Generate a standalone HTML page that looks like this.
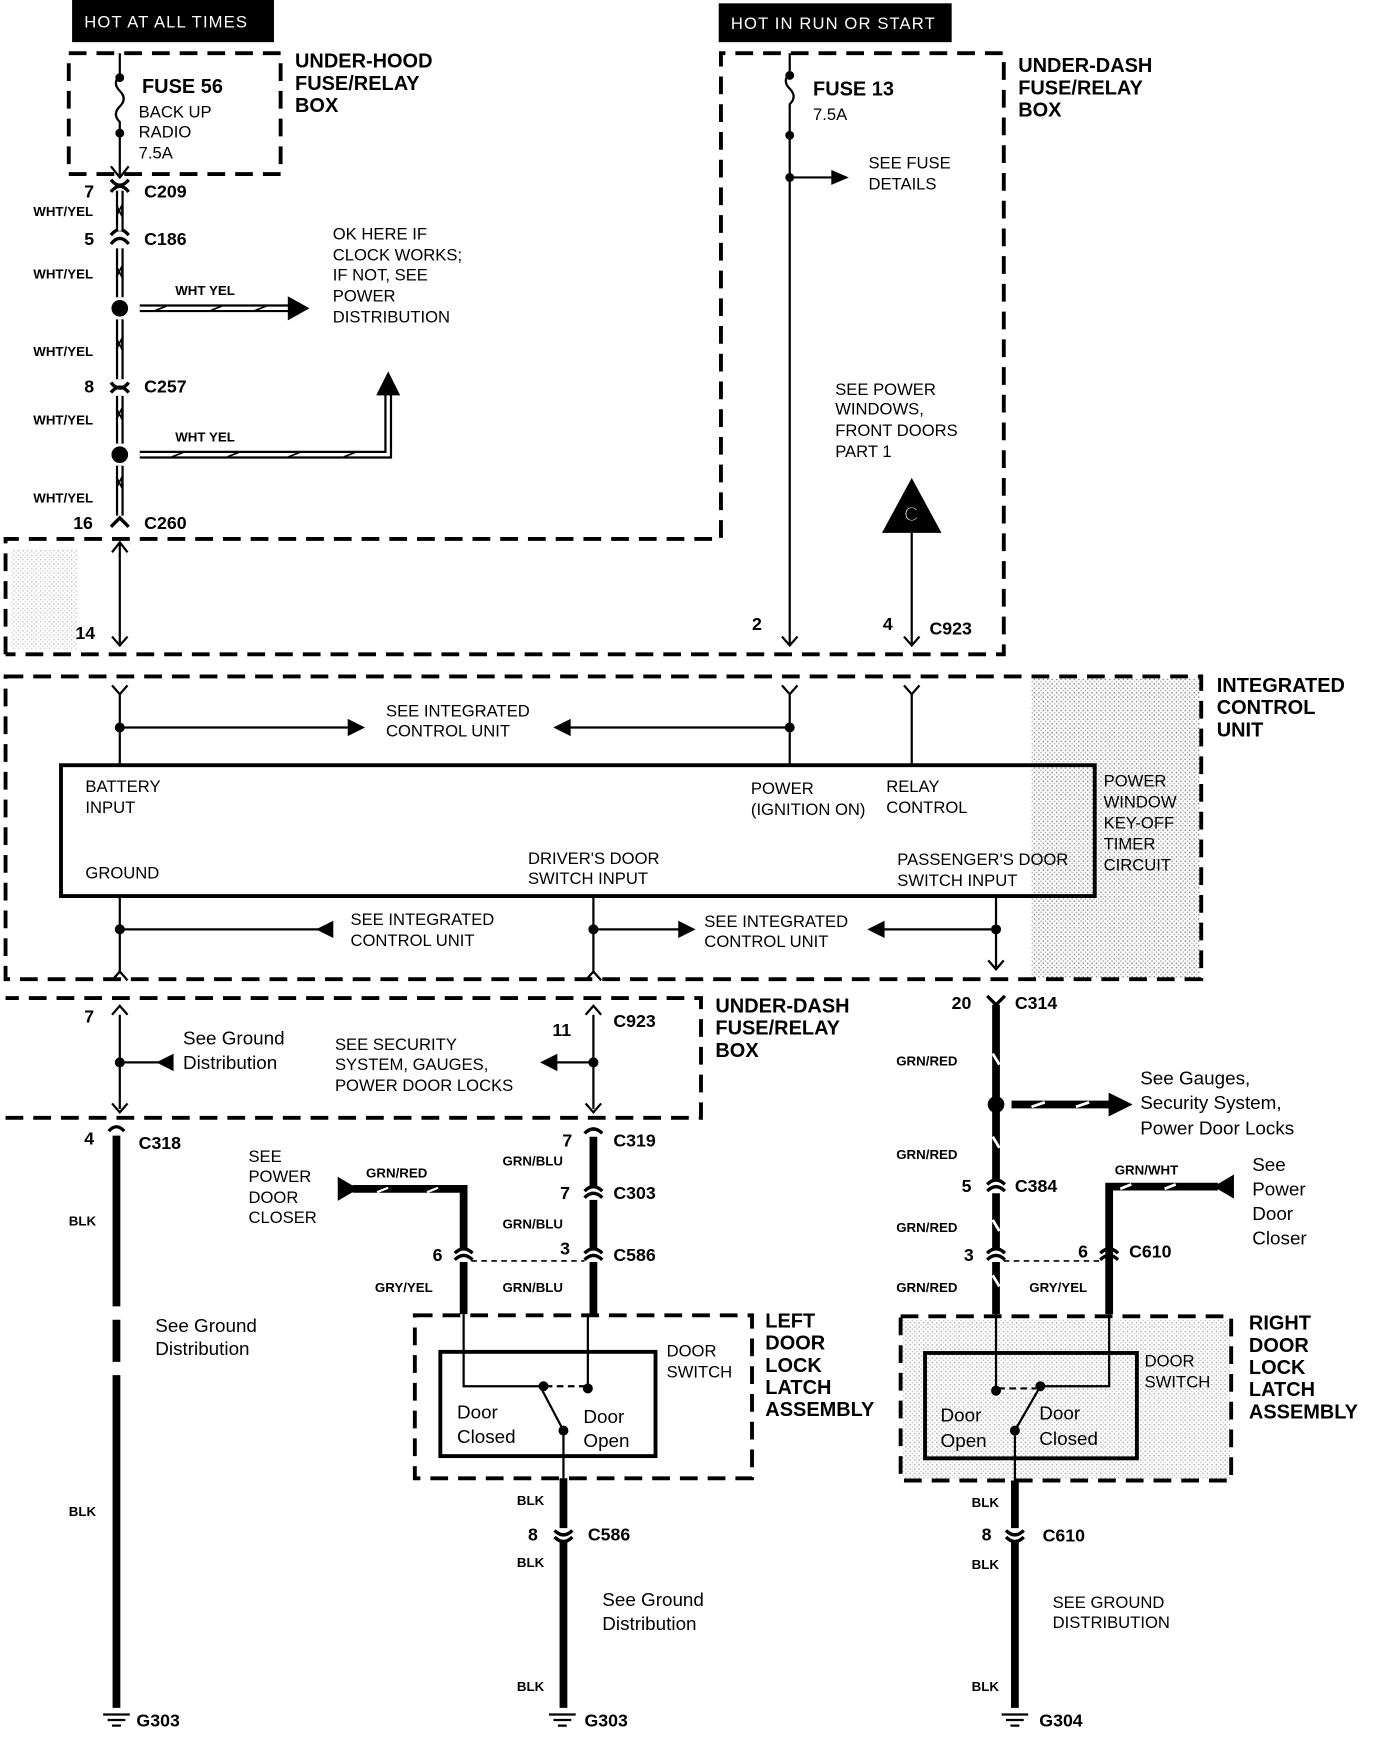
<!DOCTYPE html>
<html><head><meta charset="utf-8"><style>
html,body{margin:0;padding:0;background:#fff;}
svg{display:block;}
text{font-family:"Liberation Sans",sans-serif;fill:#000;}
.b{font-weight:bold;font-size:18px;}
.s{font-size:15px;}
.w{font-weight:bold;font-size:12px;}
.m{font-size:17px;}
.p{font-size:16px;font-weight:bold;}
</style></head><body>
<svg width="1392" height="1740" viewBox="0 0 1255 1569" preserveAspectRatio="none" xmlns="http://www.w3.org/2000/svg">
<defs>
<pattern id="dots" width="4" height="4" patternUnits="userSpaceOnUse"><rect x="0" y="0" width="1.3" height="1.3" fill="#888"/><rect x="2" y="2" width="1.3" height="1.3" fill="#aaa"/></pattern>
</defs>
<g fill="none" stroke="#000">
<rect x="930" y="612" width="152" height="270" fill="url(#dots)" stroke="none"/>
<rect x="814" y="1190" width="295" height="143" fill="url(#dots)" stroke="none" opacity="0.7"/>
<rect x="10" y="495" width="60" height="90" fill="url(#dots)" stroke="none" opacity="0.5"/>

<g stroke-width="3.5" stroke-dasharray="16,9">
<rect x="62" y="48" width="191" height="109"/>
<path d="M5,590 V486 H650 V48 H905 V590 H5"/>
<rect x="5" y="610" width="1078" height="273"/>
<path d="M5,1008 H632 V900 H5"/>
<rect x="374" y="1186" width="304" height="147"/>
<rect x="812" y="1187" width="298" height="148"/>
</g>

<rect x="55" y="690" width="932" height="118" stroke-width="3.5"/>
<rect x="397" y="1219" width="194" height="94" stroke-width="3.5"/>
<rect x="834" y="1220" width="191" height="95" stroke-width="3.5"/>

<g stroke-width="2">
<line x1="108" y1="48" x2="108" y2="68"/>
<path d="M108,68 q-7,7 0,14 q7,7 0,14 q-7,7 0,14 v12"/>
<line x1="108" y1="122" x2="108" y2="158"/>
<path d="M100,150 l8,10 l8,-10"/>
</g>
<circle cx="108" cy="70" r="3.5" fill="#000"/>
<circle cx="108" cy="120" r="3.5" fill="#000"/>
<g stroke-width="3">
<path d="M100,162 q8,10 16,0"/><path d="M100,173 q8,-10 16,0" />
<path d="M100,212 q8,-10 16,0"/><path d="M100,220 q8,-10 16,0"/>
<path d="M100,345 q8,10 16,0"/><path d="M100,354 q8,-10 16,0"/>
<path d="M100,475 l8,-8 l8,8"/>
</g>
<g stroke-width="7">
<line x1="108" y1="172" x2="108" y2="208"/><line x1="108" y1="224" x2="108" y2="268"/>
<line x1="108" y1="288" x2="108" y2="342"/><line x1="108" y1="357" x2="108" y2="400"/>
<line x1="108" y1="420" x2="108" y2="465"/>
<line x1="126" y1="278" x2="262" y2="278"/>
<path d="M126,410 H350 V352"/>
</g>
<g stroke="#fff" stroke-width="3">
<line x1="108" y1="172" x2="108" y2="208"/><line x1="108" y1="224" x2="108" y2="268"/>
<line x1="108" y1="288" x2="108" y2="342"/><line x1="108" y1="357" x2="108" y2="400"/>
<line x1="108" y1="420" x2="108" y2="465"/>
<line x1="126" y1="278" x2="262" y2="278"/>
<path d="M126,410 H350 V352"/>
</g>
<g stroke-width="1.5">
<path d="M105,185 l5,10 v-10 l-5,10"/><path d="M105,240 l5,10 v-10 l-5,10"/>
<path d="M105,305 l5,10 v-10 l-5,10"/><path d="M105,368 l5,10 v-10 l-5,10"/>
<path d="M105,430 l5,10 v-10 l-5,10"/>
<path d="M140,280 l10,-4 M190,280 l10,-4 M230,280 l10,-4"/>
<path d="M155,412 l10,-4 M205,412 l10,-4 M260,412 l10,-4 M310,412 l10,-4"/>
</g>
<circle cx="108" cy="278" r="7" fill="#000"/>
<circle cx="108" cy="410" r="7" fill="#000"/>
<path d="M260,268 L278,278 L260,288 Z" fill="#000"/>
<path d="M340,356 L350,336 L360,356 Z" fill="#000"/>

<g stroke-width="2">
<line x1="108" y1="490" x2="108" y2="580"/>
<path d="M101,498 l7,-9 l7,9 M101,574 l7,8 l7,-8"/>
<line x1="712" y1="48" x2="712" y2="66"/>
<path d="M712,66 q-7,7 0,14 q7,7 0,14 v28"/>
<line x1="712" y1="122" x2="712" y2="582"/>
<path d="M705,574 l7,8 l7,-8"/>
<line x1="712" y1="160" x2="752" y2="160"/>
<line x1="822" y1="480" x2="822" y2="582"/>
<path d="M815,574 l7,8 l7,-8"/>
<path d="M101,618 l7,8 l7,-8 M108,626 V690"/>
<path d="M705,618 l7,8 l7,-8 M712,626 V690"/>
<path d="M815,618 l7,8 l7,-8 M822,626 V690"/>
<line x1="108" y1="656" x2="318" y2="656"/>
<line x1="512" y1="656" x2="712" y2="656"/>
<path d="M108,808 V878 M101,884 l7,-8 l7,8"/>
<path d="M535,808 V878 M528,884 l7,-8 l7,8"/>
<path d="M898,808 V872 M891,866 l7,8 l7,-8"/>
<line x1="108" y1="838" x2="290" y2="838"/>
<line x1="535" y1="838" x2="614" y2="838"/>
<line x1="795" y1="838" x2="898" y2="838"/>
<path d="M108,915 V1000 M101,915 l7,-8 l7,8 M101,995 l7,8 l7,-8"/>
<path d="M535,915 V1000 M528,915 l7,-8 l7,8 M528,995 l7,8 l7,-8"/>
<line x1="108" y1="958" x2="150" y2="958"/>
<line x1="500" y1="958" x2="535" y2="958"/>
</g>
<circle cx="712" cy="160" r="3.5" fill="#000"/>
<circle cx="712" cy="122" r="3.5" fill="#000"/>
<circle cx="712" cy="68" r="3.5" fill="#000"/>
<path d="M750,154 L764,160 L750,166 Z" fill="#000"/>
<path d="M796,480 L822,432 L848,480 Z" fill="#000"/>
<text x="815" y="470" style="font-size:18px;fill:#fff">C</text>
<circle cx="108" cy="656" r="4" fill="#000"/><circle cx="712" cy="656" r="4" fill="#000"/>
<path d="M314,649 L328,656 L314,663 Z" fill="#000"/>
<path d="M514,649 L500,656 L514,663 Z" fill="#000"/>
<circle cx="108" cy="838" r="4" fill="#000"/><circle cx="535" cy="838" r="4" fill="#000"/><circle cx="898" cy="838" r="4" fill="#000"/>
<path d="M300,831 L286,838 L300,845 Z" fill="#000"/>
<path d="M612,831 L626,838 L612,845 Z" fill="#000"/>
<path d="M797,831 L783,838 L797,845 Z" fill="#000"/>
<circle cx="108" cy="958" r="4" fill="#000"/><circle cx="535" cy="958" r="4" fill="#000"/>
<path d="M156,951 L142,958 L156,965 Z" fill="#000"/>
<path d="M502,951 L488,958 L502,965 Z" fill="#000"/>

<path d="M98,1020 q7,-8 14,0" stroke-width="3"/>
<g stroke-width="7">
<line x1="105" y1="1024" x2="105" y2="1178"/>
<line x1="105" y1="1190" x2="105" y2="1228"/>
<line x1="105" y1="1240" x2="105" y2="1540"/>
</g>
<g stroke-width="3">
<path d="M527,1022 q8,-8 16,0"/><path d="M527,1074 q8,-8 16,0"/><path d="M527,1080 q8,-8 16,0"/>
<path d="M527,1130 q8,-8 16,0"/><path d="M527,1136 q8,-8 16,0"/>
<path d="M410,1130 q8,-8 16,0"/><path d="M410,1136 q8,-8 16,0"/>
<path d="M500,1380 q8,8 16,0"/><path d="M500,1386 q8,8 16,0"/>
</g>
<g stroke-width="7">
<line x1="535" y1="1025" x2="535" y2="1070"/><line x1="535" y1="1082" x2="535" y2="1126"/><line x1="535" y1="1138" x2="535" y2="1185"/>
<path d="M318,1072 H418 V1126"/><line x1="418" y1="1138" x2="418" y2="1185"/>
<line x1="508" y1="1333" x2="508" y2="1378"/><line x1="508" y1="1390" x2="508" y2="1540"/>
</g>
<path d="M305,1062 L322,1072 L305,1082 Z" fill="#000"/>
<path d="M340,1075 l10,-4 M385,1075 l10,-4" stroke="#fff" stroke-width="2"/>
<line x1="425" y1="1137" x2="527" y2="1137" stroke-width="1.5" stroke-dasharray="5,4"/>
<g stroke-width="2">
<path d="M418,1185 V1250 H488"/><line x1="530" y1="1185" x2="530" y2="1250"/>
<line x1="492" y1="1250" x2="528" y2="1250" stroke-dasharray="6,4"/>
<path d="M488,1252 L508,1290 V1333"/>
</g>
<circle cx="490" cy="1250" r="4" fill="#000"/><circle cx="530" cy="1252" r="4" fill="#000"/><circle cx="508" cy="1290" r="4" fill="#000"/>
<g stroke-width="3">
<path d="M890,898 l8,8 l8,-8"/>
<path d="M890,1068 q8,-8 16,0"/><path d="M890,1074 q8,-8 16,0"/>
<path d="M890,1130 q8,-8 16,0"/><path d="M890,1136 q8,-8 16,0"/>
<path d="M992,1130 q8,-8 16,0"/><path d="M992,1136 q8,-8 16,0"/>
<path d="M907,1380 q8,8 16,0"/><path d="M907,1386 q8,8 16,0"/>
</g>
<g stroke-width="7">
<line x1="898" y1="906" x2="898" y2="1064"/><line x1="898" y1="1076" x2="898" y2="1126"/><line x1="898" y1="1138" x2="898" y2="1185"/>
<line x1="912" y1="996" x2="1002" y2="996"/>
<path d="M1000,1185 V1070 H1098"/>
<line x1="915" y1="1335" x2="915" y2="1378"/><line x1="915" y1="1390" x2="915" y2="1540"/>
</g>
<g stroke="#fff" stroke-width="2.5">
<path d="M895,950 l6,10 M895,1025 l6,10 M895,1100 l6,10 M895,1150 l6,10"/>
<path d="M930,998 l12,-4 M970,998 l12,-4 M1010,1072 l10,-4 M1050,1072 l10,-4"/>
</g>
<circle cx="898" cy="996" r="7" fill="#000"/>
<path d="M1000,986 L1020,996 L1000,1006 Z" fill="#000"/>
<path d="M1112,1060 L1095,1070 L1112,1080 Z" fill="#000"/>
<line x1="905" y1="1137" x2="992" y2="1137" stroke-width="1.5" stroke-dasharray="5,4"/>
<g stroke-width="2">
<line x1="898" y1="1185" x2="898" y2="1254"/>
<path d="M1000,1185 V1250 H938"/>
<line x1="900" y1="1252" x2="934" y2="1252" stroke-dasharray="6,4"/>
<path d="M938,1250 L915,1290 V1335"/>
</g>
<circle cx="898" cy="1254" r="4" fill="#000"/><circle cx="938" cy="1250" r="4" fill="#000"/><circle cx="915" cy="1290" r="4" fill="#000"/>
<g stroke-width="2">
<path d="M93,1546 h24 M97,1551 h16 M101,1556 h8"/>
<path d="M495,1546 h24 M499,1551 h16 M503,1556 h8"/>
<path d="M903,1546 h24 M907,1551 h16 M911,1556 h8"/>
</g>
</g>

<rect x="65" y="0" width="182" height="38" fill="#000"/>
<text x="76" y="25" style="font-size:15px;fill:#fff;letter-spacing:1px">HOT AT ALL TIMES</text>
<rect x="648" y="3" width="210" height="35" fill="#000"/>
<text x="659" y="26" style="font-size:15px;fill:#fff;letter-spacing:1px">HOT IN RUN OR START</text>

<text class="b" x="266" y="61">UNDER-HOOD</text><text class="b" x="266" y="81">FUSE/RELAY</text><text class="b" x="266" y="101">BOX</text>
<text class="b" x="128" y="84">FUSE 56</text>
<text class="s" x="125" y="106">BACK UP</text><text class="s" x="125" y="124">RADIO</text><text class="s" x="125" y="143">7.5A</text>
<text class="p" x="76" y="178">7</text><text class="p" x="130" y="178">C209</text>
<text class="p" x="76" y="221">5</text><text class="p" x="130" y="221">C186</text>
<text class="p" x="76" y="354">8</text><text class="p" x="130" y="354">C257</text>
<text class="p" x="66" y="477">16</text><text class="p" x="130" y="477">C260</text>
<text class="w" x="30" y="195">WHT/YEL</text><text class="w" x="30" y="251">WHT/YEL</text><text class="w" x="30" y="321">WHT/YEL</text><text class="w" x="30" y="383">WHT/YEL</text><text class="w" x="30" y="453">WHT/YEL</text>
<text class="w" x="158" y="266">WHT YEL</text><text class="w" x="158" y="398">WHT YEL</text>
<text class="s" x="300" y="216">OK HERE IF</text><text class="s" x="300" y="235">CLOCK WORKS;</text><text class="s" x="300" y="253">IF NOT, SEE</text><text class="s" x="300" y="272">POWER</text><text class="s" x="300" y="291">DISTRIBUTION</text>
<text class="b" x="918" y="65">UNDER-DASH</text><text class="b" x="918" y="85">FUSE/RELAY</text><text class="b" x="918" y="105">BOX</text>
<text class="b" x="733" y="86">FUSE 13</text><text class="s" x="733" y="108">7.5A</text>
<text class="s" x="783" y="152">SEE FUSE</text><text class="s" x="783" y="171">DETAILS</text>
<text class="s" x="753" y="356">SEE POWER</text><text class="s" x="753" y="374">WINDOWS,</text><text class="s" x="753" y="393">FRONT DOORS</text><text class="s" x="753" y="412">PART 1</text>
<text class="p" x="68" y="576">14</text><text class="p" x="678" y="568">2</text><text class="p" x="796" y="568">4</text><text class="p" x="838" y="572">C923</text>
<text class="b" x="1097" y="624">INTEGRATED</text><text class="b" x="1097" y="644">CONTROL</text><text class="b" x="1097" y="664">UNIT</text>
<text class="s" x="348" y="646">SEE INTEGRATED</text><text class="s" x="348" y="664">CONTROL UNIT</text>
<text class="s" x="77" y="714">BATTERY</text><text class="s" x="77" y="733">INPUT</text>
<text class="s" x="677" y="716">POWER</text><text class="s" x="677" y="735">(IGNITION ON)</text>
<text class="s" x="799" y="714">RELAY</text><text class="s" x="799" y="733">CONTROL</text>
<text class="s" x="77" y="792">GROUND</text>
<text class="s" x="476" y="779">DRIVER'S DOOR</text><text class="s" x="476" y="797">SWITCH INPUT</text>
<text class="s" x="809" y="780">PASSENGER'S DOOR</text><text class="s" x="809" y="799">SWITCH INPUT</text>
<text class="s" x="995" y="709">POWER</text><text class="s" x="995" y="728">WINDOW</text><text class="s" x="995" y="747">KEY-OFF</text><text class="s" x="995" y="766">TIMER</text><text class="s" x="995" y="785">CIRCUIT</text>
<text class="s" x="316" y="834">SEE INTEGRATED</text><text class="s" x="316" y="853">CONTROL UNIT</text>
<text class="s" x="635" y="836">SEE INTEGRATED</text><text class="s" x="635" y="854">CONTROL UNIT</text>
<text class="p" x="76" y="922">7</text><text class="p" x="498" y="934">11</text><text class="p" x="553" y="926">C923</text>
<text class="b" x="645" y="913">UNDER-DASH</text><text class="b" x="645" y="933">FUSE/RELAY</text><text class="b" x="645" y="953">BOX</text>
<text class="m" x="165" y="942">See Ground</text><text class="m" x="165" y="964">Distribution</text>
<text class="s" x="302" y="947">SEE SECURITY</text><text class="s" x="302" y="965">SYSTEM, GAUGES,</text><text class="s" x="302" y="984">POWER DOOR LOCKS</text>
<text class="p" x="858" y="910">20</text><text class="p" x="915" y="910">C314</text>
<text class="w" x="808" y="961">GRN/RED</text>
<text class="m" x="1028" y="978">See Gauges,</text><text class="m" x="1028" y="1000">Security System,</text><text class="m" x="1028" y="1023">Power Door Locks</text>
<text class="w" x="808" y="1045">GRN/RED</text><text class="p" x="867" y="1075">5</text><text class="p" x="915" y="1075">C384</text>
<text class="w" x="808" y="1111">GRN/RED</text><text class="p" x="869" y="1137">3</text>
<text class="w" x="808" y="1165">GRN/RED</text><text class="w" x="928" y="1165">GRY/YEL</text>
<text class="w" x="1005" y="1059">GRN/WHT</text><text class="p" x="972" y="1134">6</text><text class="p" x="1018" y="1134">C610</text>
<text class="m" x="1129" y="1056">See</text><text class="m" x="1129" y="1078">Power</text><text class="m" x="1129" y="1100">Door</text><text class="m" x="1129" y="1122">Closer</text>
<text class="p" x="76" y="1032">4</text><text class="p" x="125" y="1036">C318</text>
<text class="w" x="62" y="1105">BLK</text><text class="w" x="62" y="1367">BLK</text>
<text class="m" x="140" y="1201">See Ground</text><text class="m" x="140" y="1222">Distribution</text>
<text class="p" x="123" y="1557">G303</text><text class="p" x="527" y="1557">G303</text><text class="p" x="937" y="1557">G304</text>
<text class="p" x="507" y="1034">7</text><text class="p" x="553" y="1034">C319</text><text class="w" x="453" y="1051">GRN/BLU</text>
<text class="p" x="505" y="1081">7</text><text class="p" x="553" y="1081">C303</text><text class="w" x="453" y="1108">GRN/BLU</text>
<text class="p" x="505" y="1131">3</text><text class="p" x="553" y="1137">C586</text><text class="w" x="453" y="1165">GRN/BLU</text>
<text class="p" x="390" y="1137">6</text><text class="w" x="338" y="1165">GRY/YEL</text><text class="w" x="330" y="1062">GRN/RED</text>
<text class="s" x="224" y="1048">SEE</text><text class="s" x="224" y="1066">POWER</text><text class="s" x="224" y="1085">DOOR</text><text class="s" x="224" y="1103">CLOSER</text>
<text class="s" x="601" y="1223">DOOR</text><text class="s" x="601" y="1242">SWITCH</text>
<text class="b" x="690" y="1197">LEFT</text><text class="b" x="690" y="1217">DOOR</text><text class="b" x="690" y="1237">LOCK</text><text class="b" x="690" y="1257">LATCH</text><text class="b" x="690" y="1277">ASSEMBLY</text>
<text class="m" x="412" y="1279">Door</text><text class="m" x="412" y="1301">Closed</text>
<text class="m" x="526" y="1283">Door</text><text class="m" x="526" y="1305">Open</text>
<text class="w" x="466" y="1357">BLK</text><text class="p" x="476" y="1389">8</text><text class="p" x="530" y="1389">C586</text><text class="w" x="466" y="1413">BLK</text>
<text class="m" x="543" y="1448">See Ground</text><text class="m" x="543" y="1470">Distribution</text><text class="w" x="466" y="1525">BLK</text>
<text class="s" x="1032" y="1232">DOOR</text><text class="s" x="1032" y="1251">SWITCH</text>
<text class="b" x="1126" y="1199">RIGHT</text><text class="b" x="1126" y="1219">DOOR</text><text class="b" x="1126" y="1239">LOCK</text><text class="b" x="1126" y="1259">LATCH</text><text class="b" x="1126" y="1279">ASSEMBLY</text>
<text class="m" x="848" y="1282">Door</text><text class="m" x="848" y="1305">Open</text>
<text class="m" x="937" y="1280">Door</text><text class="m" x="937" y="1303">Closed</text>
<text class="w" x="876" y="1359">BLK</text><text class="p" x="885" y="1389">8</text><text class="p" x="940" y="1390">C610</text><text class="w" x="876" y="1415">BLK</text>
<text class="s" x="949" y="1450">SEE GROUND</text><text class="s" x="949" y="1468">DISTRIBUTION</text><text class="w" x="876" y="1525">BLK</text>
</svg>
</body></html>
